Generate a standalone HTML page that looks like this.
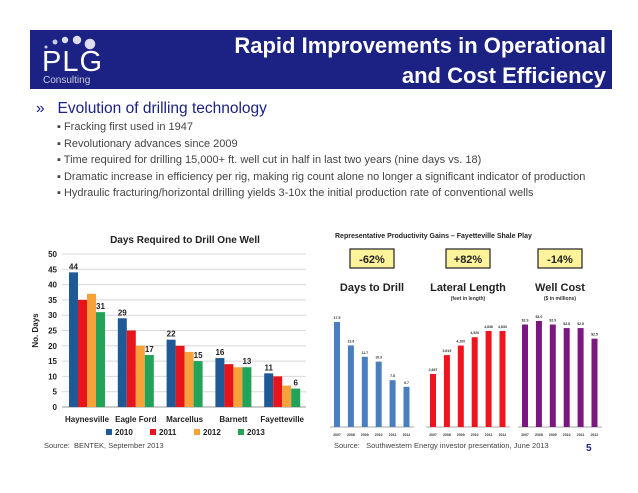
<!DOCTYPE html>
<html><head><meta charset="utf-8"><style>
body{margin:0;width:638px;height:493px;background:#fff;font-family:"Liberation Sans",sans-serif;position:relative;overflow:hidden}
.abs{position:absolute}
</style></head><body>
<div class="abs" style="left:30px;top:30px;width:582px;height:59px;background:#1c2283"></div>
<div class="abs" style="left:42px;top:33px;width:70px;height:54px;color:#fff">
 <svg width="70" height="22" class="abs" style="left:0;top:0"><circle cx="4" cy="14" r="1.5" fill="#c8cbe8"/><circle cx="13" cy="9" r="2.5" fill="#c8cbe8"/><circle cx="23" cy="7" r="3.2" fill="#dde"/><circle cx="35" cy="7" r="4.2" fill="#dde"/><circle cx="48" cy="11" r="5.3" fill="#dde"/></svg>
 <div class="abs" style="left:0;top:15px;font-size:29px;letter-spacing:1px;line-height:29px">PLG</div>
 <div class="abs" style="left:1px;top:42px;font-size:10px;color:#ccd">Consulting</div>
</div>
<div class="abs" style="right:32px;top:31px;color:#fff;font-weight:bold;font-size:22px;text-align:right;line-height:30px">Rapid Improvements in Operational<br>and Cost Efficiency</div>
<div class="abs" style="left:36px;top:100px;font-size:15.5px;color:#1c2283">»&nbsp;&nbsp; Evolution of drilling technology</div>
<div class="abs" style="left:57px;top:119px;font-size:11px;color:#444;line-height:16.5px">
▪ Fracking first used in 1947<br>▪ Revolutionary advances since 2009<br>▪ Time required for drilling 15,000+ ft. well cut in half in last two years (nine days vs. 18)<br>▪ Dramatic increase in efficiency per rig, making rig count alone no longer a significant indicator of production<br>▪ Hydraulic fracturing/horizontal drilling yields 3-10x the initial production rate of conventional wells</div>
<svg id="left" class="abs" style="left:0;top:0" width="638" height="493"></svg>
<div class="abs" style="left:44px;top:441px;font-size:7.5px;color:#444">Source:&nbsp; BENTEK, September 2013</div>
<div class="abs" style="left:334px;top:441px;font-size:7.5px;color:#444">Source:&nbsp;&nbsp; Southwestern Energy investor presentation, June 2013</div>
<div class="abs" style="left:586px;top:443px;font-size:10px;font-weight:bold;color:#1c2283">5</div>
<script>
const basins=["Haynesville","Eagle Ford","Marcellus","Barnett","Fayetteville"];
const years=["2010","2011","2012","2013"];
const d2010=[44,29,22,16,11];
const d2011=[35,25,20,14,10];
const d2012=[37,20,18,13,7];
const d2013=[31,17,15,13,6];
const yTicks=[0,5,10,15,20,25,30,35,40,45,50];
const labelShown=[[0,3],[0,3],[0,3],[0,3],[0,3]];
const ryears=["2007","2008","2009","2010","2011","2012"];
const drillDays=[17.5,13.6,11.7,10.9,7.8,6.7];
const drillLbl=["17.5","13.6","11.7","10.9","7.8","6.7"];
const lateral=[2667,3619,4100,4520,4836,4833];
const lateralLbl=["2,667","3,619","4,100","4,520","4,836","4,833"];
const cost=[2.9,3.0,2.9,2.8,2.8,2.5];
const costLbl=["$2.9","$3.0","$2.9","$2.8","$2.8","$2.5"];
const NS="http://www.w3.org/2000/svg";
const svg=document.getElementById('left');
function mk(t,a,txt){const e=document.createElementNS(NS,t);for(const k in a)e.setAttribute(k,a[k]);if(txt!=null)e.textContent=txt;svg.appendChild(e);return e;}
const X0=62,X1=306,Y0=407,Y1=254;
const y=v=>Y0-(v/50)*(Y0-Y1);
let t=mk('text',{x:185,y:243,'text-anchor':'middle','font-size':10,'font-weight':'bold',fill:'#222'},'Days Required to Drill One Well');

yTicks.forEach(v=>{const g=mk('line',{x1:X0,x2:X1,y1:y(v),y2:y(v),stroke:v?'#d8d8d8':'#999','stroke-width':1});

const l=mk('text',{x:X0-5,y:y(v)+3,'text-anchor':'end','font-size':8,'font-weight':'bold',fill:'#222'},v);
});
t=mk('text',{x:0,y:0,transform:`translate(38,${(Y0+Y1)/2}) rotate(-90)`,'text-anchor':'middle','font-size':8,'font-weight':'bold',fill:'#222'},'No. Days');

const series=[d2010,d2011,d2012,d2013];const cols=['#1f5a96','#e8141c','#f6a23a','#22a35a'];
const gw=(X1-X0)/basins.length,bw=9;
basins.forEach((b,i)=>{const gx=X0+i*gw+7;
series.forEach((s,j)=>{const r=mk('rect',{x:gx+j*bw,y:y(s[i]),width:bw,height:Y0-y(s[i]),fill:cols[j]});

if(labelShown[i].includes(j)){const l=mk('text',{x:gx+j*bw+bw/2,y:y(s[i])-3,'text-anchor':'middle','font-size':8,'font-weight':'bold',fill:'#222'},s[i]);
}});
const c=mk('text',{x:gx+2*bw,y:422,'text-anchor':'middle','font-size':8,'font-weight':'bold',fill:'#222'},b);
});
years.forEach((yr,j)=>{const lx=106+j*44;
const r=mk('rect',{x:lx,y:429,width:6,height:6,fill:cols[j]});
const l=mk('text',{x:lx+9,y:435,'font-size':8,'font-weight':'bold',fill:'#222'},yr);});
t=mk('text',{x:335,y:238,'font-size':7,'font-weight':'bold',fill:'#222'},'Representative Productivity Gains – Fayetteville Shale Play');

const BASE=427;
const panels=[
 {x:334,pct:'-62%',title:'Days to Drill',sub:'',vals:drillDays,lbl:drillLbl,sc:105/17.5,col:'#4a7fbf',name:'days'},
 {x:430,pct:'+82%',title:'Lateral Length',sub:'(feet in length)',vals:lateral,lbl:lateralLbl,sc:96/4833,col:'#f0141e',name:'lateral'},
 {x:522,pct:'-14%',title:'Well Cost',sub:'($ in millions)',vals:cost,lbl:costLbl,sc:106/3.0,col:'#7b1780',name:'cost'}];
panels.forEach(p=>{const cx=p.x+38;
const b=mk('rect',{x:cx-22,y:249,width:44,height:19,fill:'#fdf39a',stroke:'#222','stroke-width':1.2});
let l=mk('text',{x:cx,y:263,'text-anchor':'middle','font-size':11,'font-weight':'bold',fill:'#222'},p.pct);
l=mk('text',{x:cx,y:291,'text-anchor':'middle','font-size':11,'font-weight':'bold',fill:'#222'},p.title);
if(p.sub){l=mk('text',{x:cx,y:300,'text-anchor':'middle','font-size':5,'font-weight':'bold',fill:'#333'},p.sub);}
l=mk('line',{x1:p.x-4,x2:p.x+80,y1:BASE,y2:BASE,stroke:'#aaa'});
p.vals.forEach((v,i)=>{const bx=p.x+i*13.9,h=v*p.sc;
const r=mk('rect',{x:bx,y:BASE-h,width:6,height:h,fill:p.col});
let q=mk('text',{x:bx+3,y:BASE-h-3,'text-anchor':'middle','font-size':3.5,'font-weight':'bold',fill:'#333'},p.lbl[i]);
q=mk('text',{x:bx+3,y:436,'text-anchor':'middle','font-size':3.5,'font-weight':'bold',fill:'#333'},ryears[i]);});});
</script>
</body></html>
